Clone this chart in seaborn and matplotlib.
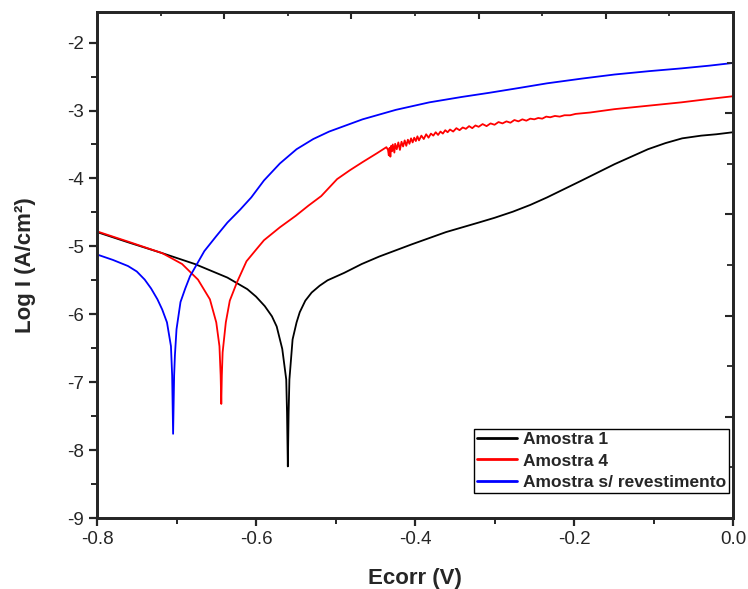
import numpy as np
import pandas as pd
import matplotlib
matplotlib.use("Agg")
import matplotlib.pyplot as plt
import seaborn as sns
from matplotlib.ticker import MultipleLocator

# Amostra 1 (black)
x_a1 = [-0.800, -0.761, -0.718, -0.677, -0.636, -0.611, -0.600, -0.589, -0.580, -0.574,
        -0.567, -0.562, -0.561, -0.560, -0.559, -0.558, -0.554, -0.549, -0.545, -0.538,
        -0.530, -0.520, -0.510, -0.489, -0.467, -0.445, -0.404, -0.361, -0.320, -0.300,
        -0.277, -0.255, -0.234, -0.192, -0.149, -0.107, -0.085, -0.064, -0.040, -0.021,
        0.000]
y_a1 = [-4.79, -4.94, -5.10, -5.26, -5.46, -5.63, -5.74, -5.88, -6.03, -6.18,
        -6.51, -6.96, -7.45, -8.24, -7.45, -6.96, -6.37, -6.12, -5.97, -5.80,
        -5.68, -5.58, -5.50, -5.39, -5.26, -5.15, -4.97, -4.79, -4.65, -4.58,
        -4.49, -4.39, -4.28, -4.04, -3.79, -3.57, -3.48, -3.41, -3.37, -3.35,
        -3.32]

# Amostra 4 (red)
x_a4 = [-0.800, -0.761, -0.718, -0.693, -0.673, -0.658, -0.650, -0.646, -0.6445, -0.6437,
        -0.643, -0.642, -0.638, -0.633, -0.624, -0.612, -0.600, -0.590, -0.570, -0.550,
        -0.534, -0.518, -0.498, -0.482, -0.466, -0.448, -0.436,
        -0.434, -0.433, -0.432, -0.431, -0.430, -0.429, -0.428, -0.426, -0.425, -0.423,
        -0.421, -0.419, -0.417, -0.415, -0.413, -0.411, -0.409, -0.407, -0.405, -0.403,
        -0.401, -0.399, -0.397, -0.395, -0.392, -0.389, -0.386, -0.383, -0.380, -0.377,
        -0.374, -0.371, -0.368, -0.365, -0.362, -0.359, -0.356, -0.352, -0.348, -0.344,
        -0.340, -0.336, -0.332, -0.328, -0.324, -0.320, -0.315, -0.310, -0.305, -0.300,
        -0.295, -0.290, -0.285, -0.280, -0.275, -0.270, -0.265, -0.260, -0.255, -0.250,
        -0.245, -0.240, -0.235, -0.230, -0.224, -0.218, -0.212, -0.205, -0.198,
        -0.180, -0.149, -0.107, -0.065, -0.030, 0.000]
y_a4 = [-4.78, -4.93, -5.10, -5.26, -5.49, -5.78, -6.12, -6.47, -6.90, -7.32,
        -6.90, -6.56, -6.12, -5.80, -5.53, -5.22, -5.05, -4.91, -4.72, -4.55,
        -4.40, -4.26, -4.01, -3.88, -3.76, -3.63, -3.54,
        -3.58, -3.66, -3.55, -3.68, -3.52, -3.60, -3.50, -3.62, -3.49, -3.57,
        -3.47, -3.58, -3.46, -3.53, -3.44, -3.52, -3.43, -3.49, -3.41, -3.47,
        -3.40, -3.45, -3.38, -3.44, -3.37, -3.42, -3.35, -3.40, -3.34, -3.37,
        -3.32, -3.36, -3.31, -3.34, -3.29, -3.32, -3.28, -3.31, -3.26, -3.29,
        -3.25, -3.27, -3.23, -3.26, -3.22, -3.24, -3.20, -3.23, -3.19, -3.21,
        -3.17, -3.19, -3.16, -3.18, -3.14, -3.16, -3.13, -3.15, -3.12, -3.13,
        -3.11, -3.12, -3.09, -3.10, -3.08, -3.09, -3.07, -3.07, -3.05,
        -3.03, -2.98, -2.93, -2.88, -2.83, -2.79]

# Amostra s/ revestimento (blue)
x_sr = [-0.800, -0.780, -0.761, -0.750, -0.740, -0.732, -0.724, -0.718, -0.712, -0.707,
        -0.7055, -0.7043, -0.703, -0.702, -0.700, -0.695, -0.689, -0.683, -0.665, -0.650,
        -0.636, -0.620, -0.606, -0.590, -0.570, -0.549, -0.528, -0.508, -0.466, -0.424,
        -0.382, -0.341, -0.307, -0.270, -0.234, -0.190, -0.149, -0.105, -0.065, -0.030,
        0.000]
y_sr = [-5.12, -5.20, -5.29, -5.37, -5.49, -5.62, -5.78, -5.93, -6.12, -6.47,
        -6.90, -7.76, -6.90, -6.60, -6.22, -5.82, -5.62, -5.44, -5.07, -4.85,
        -4.65, -4.46, -4.28, -4.03, -3.78, -3.57, -3.42, -3.31, -3.13, -2.99,
        -2.88, -2.80, -2.74, -2.67, -2.60, -2.53, -2.47, -2.42, -2.38, -2.34,
        -2.30]

labels = ["Amostra 1", "Amostra 4", "Amostra s/ revestimento"]
colors = ["#000000", "#ff0000", "#0000ff"]

df = pd.concat([
    pd.DataFrame({"E": x_a1, "logI": y_a1, "Amostra": labels[0]}),
    pd.DataFrame({"E": x_a4, "logI": y_a4, "Amostra": labels[1]}),
    pd.DataFrame({"E": x_sr, "logI": y_sr, "Amostra": labels[2]}),
], ignore_index=True)

sns.set_style("ticks")
plt.rcParams['font.family'] = ['Liberation Sans', 'DejaVu Sans']

fig = plt.figure(figsize=(7.48, 5.89), dpi=100)
ax = fig.add_axes([0.1297, 0.1205, 0.8503, 0.8591])

sns.lineplot(data=df, x="E", y="logI", hue="Amostra", hue_order=labels,
             palette=dict(zip(labels, colors)), sort=False, estimator=None,
             linewidth=1.3, ax=ax)

ax.set_xlim(-0.8, 0.0)
ax.set_ylim(-9, -1.55)
ax.xaxis.set_minor_locator(MultipleLocator(0.1))
ax.yaxis.set_minor_locator(MultipleLocator(0.5))
ax.set_xticks([-0.8, -0.6, -0.4, -0.2, 0.0])
ax.set_xticklabels(["-0.8", "-0.6", "-0.4", "-0.2", "0.0"])
ax.set_yticks(range(-9, -1))
ax.set_yticklabels([str(v) for v in range(-9, -1)])
ax.tick_params(which="major", direction="out", length=6, width=1.6, labelsize=13.5)
ax.tick_params(which="minor", direction="out", length=4, width=1.4)

ax.set_xlabel("Ecorr (V)", fontsize=16, fontweight="bold", labelpad=14)
ax.set_ylabel("Log I (A/cm²)", fontsize=16, fontweight="bold", labelpad=22)

for s in ax.spines.values():
    s.set_linewidth(1.8)
    s.set_visible(True)

# mirrored ticks on top and right (independent spacing, as in the original)
ax_top = ax.twiny()
ax_top.set_xlim(0, 10)
ax_top.set_xticks([2, 4, 6, 8])
ax_top.set_xticks([1, 3, 5, 7, 9], minor=True)
ax_top.tick_params(which="major", direction="in", length=5, width=1.5, labeltop=False)
ax_top.tick_params(which="minor", direction="in", length=3, width=1.3)
ax_right = ax.twinx()
ax_right.set_ylim(0, 10)
ax_right.set_yticks([2, 4, 6, 8])
ax_right.set_yticks([1, 3, 5, 7, 9], minor=True)
ax_right.tick_params(which="major", direction="in", length=6, width=1.5, labelright=False)
ax_right.tick_params(which="minor", direction="in", length=4, width=1.3)
for a in (ax_top, ax_right):
    for s in a.spines.values():
        s.set_linewidth(1.8)

handles, lbls = ax.get_legend_handles_labels()
ax.get_legend().remove()
leg = ax_right.legend(handles, lbls, loc="lower right", bbox_to_anchor=(0.994, 0.049),
                      bbox_transform=ax.transAxes, borderaxespad=0, fancybox=False,
                      edgecolor="black", framealpha=1, prop={"weight": "bold", "size": 12.5},
                      handlelength=2.3, handletextpad=0.3, labelspacing=0.35, borderpad=0.2)
leg.get_frame().set_linewidth(1.0)
for line in leg.get_lines():
    line.set_linewidth(2.0)

fig.savefig("out.png", dpi=100)
